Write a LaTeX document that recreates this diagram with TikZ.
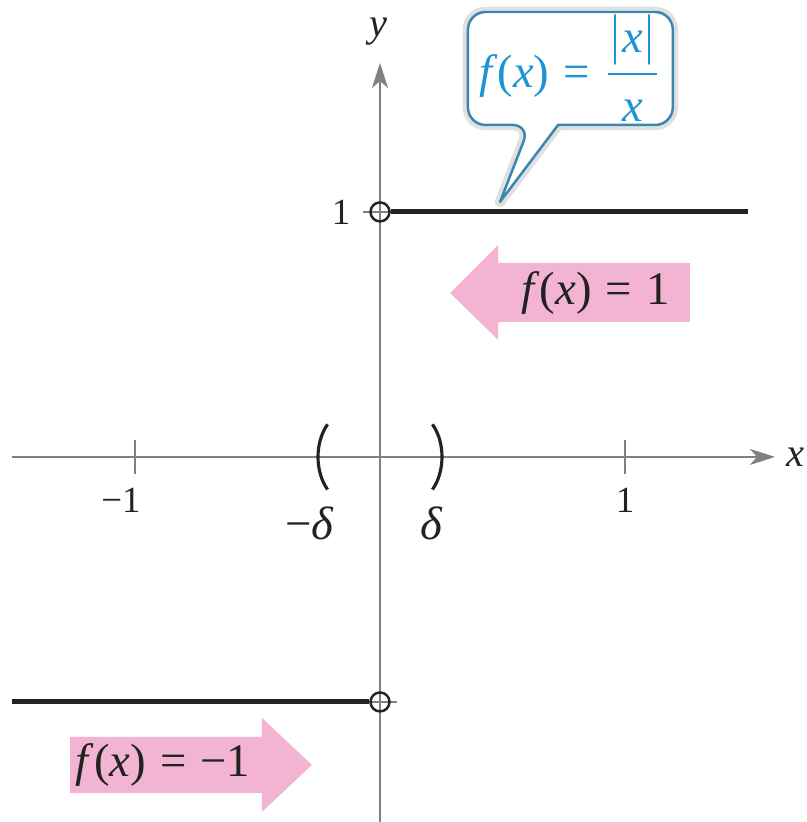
\documentclass[tikz,border=0pt]{standalone}
\usepackage{amsmath}
\usepackage{fontspec}
\setmainfont{Liberation Serif}
\usetikzlibrary{arrows.meta,calc,positioning}
\definecolor{Axis}{HTML}{808080}
\definecolor{Ink}{HTML}{222222}
\definecolor{Pink}{HTML}{F2B4D2}
\definecolor{Cyan}{HTML}{1E95D3}
\definecolor{CalloutLine}{HTML}{3A86AE}
\newcommand{\fofx}{\textit{f}(\textit{x})}
\tikzset{axis/.style={draw=Axis,line width=.6pt},tick/.style={draw=Axis,line width=.6pt},graph/.style={draw=Ink,line width=1.4pt},hole/.style={circle,draw=Ink,line width=.7pt,minimum size=.19cm,inner sep=0pt},paren/.style={draw=Ink,line width=.9pt},small/.style={font=\fontsize{10.5}{12}\selectfont,text=Ink},big/.style={font=\fontsize{13.3}{16}\selectfont,text=Ink},bigarrow/.style={fill=Pink},callout/.style={draw=CalloutLine,fill=white,line width=.7pt,line join=round,preaction={draw=black!12,line width=3pt,line join=round}}}
\begin{document}
\begin{tikzpicture}[x=2.45cm,y=2.45cm]
  \useasboundingbox (-1.551,-1.490) rectangle (1.739,1.865);
  % axes
  \coordinate (xl) at (-1.502,0);\coordinate (xr) at (1.612,0);
  \coordinate (yb) at (0,-1.490);\coordinate (yt) at (0,1.608);
  \draw[axis,-{Stealth[length=2.5mm,width=1.6mm,inset=.7mm]}](xl)--(xr);
  \draw[axis,-{Stealth[length=2.5mm,width=1.6mm,inset=.7mm]}](yb)--(yt);
  \node[small,font=\fontsize{11.5}{13}\selectfont\itshape](xlab) at (1.694,0){x};
  \node[small,font=\fontsize{11.5}{13}\selectfont\itshape](ylab) at (-0.008,1.735){y};
  % ticks
  \draw[tick](-1,-0.07)--(-1,0.07);\draw[tick](1,-0.07)--(1,0.07);
  \draw[tick](-0.07,1)--(0.07,1);\draw[tick](-0.07,-1)--(0.07,-1);
  \node[small](xm1) at (-1.057,-0.176){−1};
  \node[small](xp1) at (1,-0.176){1};
  \node[small](yp1) at (-0.159,1){1};
  % interval
  \draw[paren](-0.214,0.133) .. controls (-0.266,0.06) and (-0.266,-0.06) .. (-0.214,-0.133);
  \draw[paren](0.214,0.133) .. controls (0.266,0.06) and (0.266,-0.06) .. (0.214,-0.133);
  \node[big](mdelta) at (-0.286,-0.273){−\textit{δ}};
  \node[big](pdelta) at (0.212,-0.273){\textit{δ}};
  % graph
  \node[hole](c1) at (0,1){};\node[hole](cm1) at (0,-1){};
  \coordinate (r1) at (1.502,1);\coordinate (l1) at (-1.502,-1);
  \draw[graph](c1.east)--(r1);\draw[graph](l1)--(cm1.west);
  % arrows
  \fill[bigarrow](0.286,0.669)--(0.482,0.865)--(0.482,0.792)--(1.265,0.792)--(1.265,0.551)--(0.482,0.551)--(0.482,0.478)--cycle;
  \node[big](fup) at (0.88,0.671){\fofx\hspace{.3em}=\hspace{.3em}1};
  \fill[bigarrow](-0.278,-1.257)--(-0.482,-1.065)--(-0.482,-1.143)--(-1.265,-1.143)--(-1.265,-1.371)--(-0.482,-1.371)--(-0.482,-1.449)--cycle;
  \node[big](fdown) at (-0.886,-1.257){\fofx\hspace{.3em}=\hspace{.3em}−1};
  % callout
  \coordinate (tip) at (0.490,1.041);
  \draw[callout](0.727,1.355)[rounded corners=5pt]--(1.195,1.355)--(1.195,1.816)--(0.359,1.816)--(0.359,1.355)--(0.612,1.355)[sharp corners]--(tip)--cycle;
  \node[big,text=Cyan](rule) at (0.776,1.586){\fofx\hspace{.3em}=\hspace{.3em}$\dfrac{|\textit{x}|}{\textit{x}}$};
\end{tikzpicture}
\end{document}
